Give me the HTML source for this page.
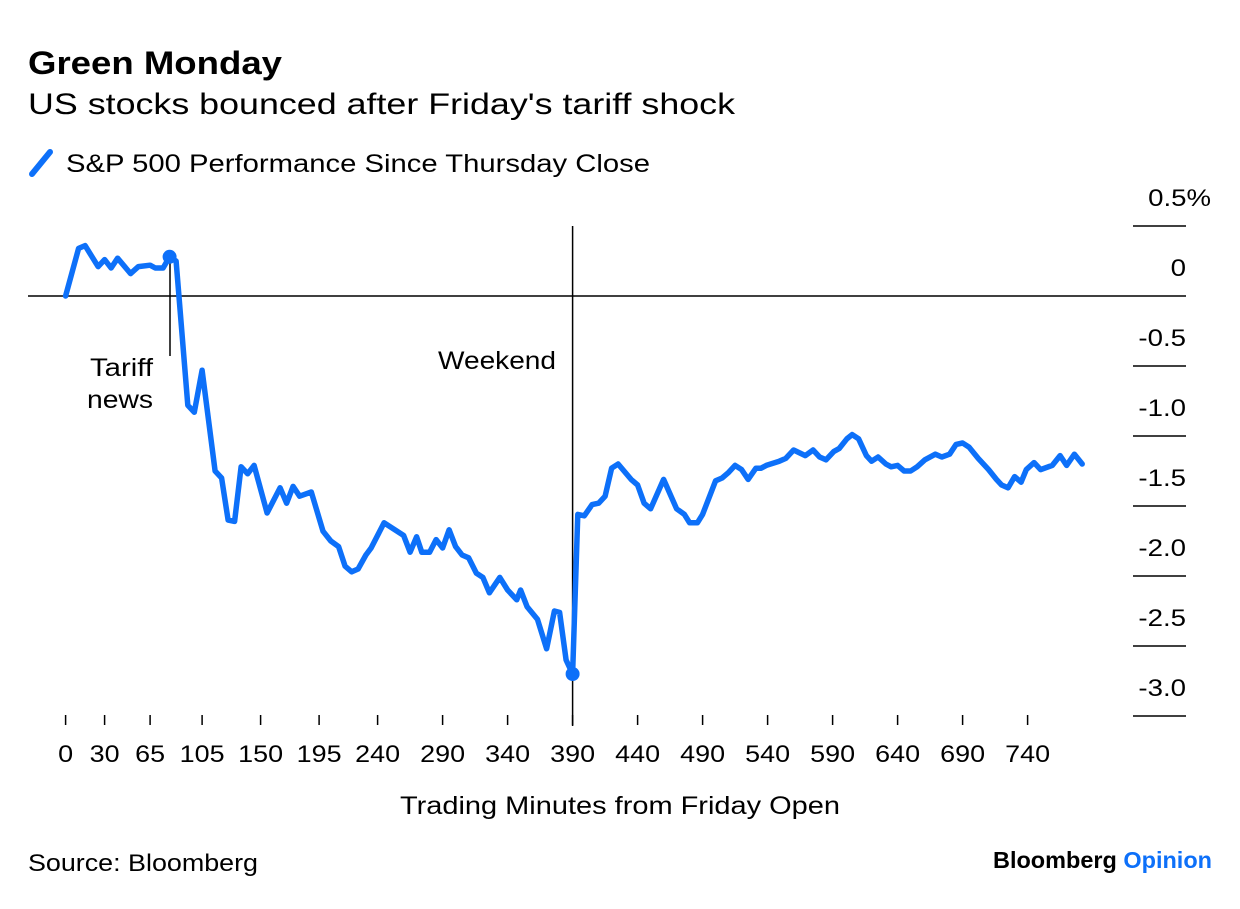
<!DOCTYPE html>
<html><head><meta charset="utf-8"><style>
body{margin:0;background:#fff;}
svg text{font-family:"Liberation Sans",Arial,sans-serif;fill:#000;}
</style></head><body>
<svg width="1240" height="904" viewBox="0 0 1240 904" xmlns="http://www.w3.org/2000/svg">
<text x="28" y="74" font-size="32" font-weight="bold" textLength="254" lengthAdjust="spacingAndGlyphs">Green Monday</text>
<text x="28" y="114" font-size="30" textLength="707" lengthAdjust="spacingAndGlyphs">US stocks bounced after Friday's tariff shock</text>
<g>
<line x1="32" y1="174" x2="50" y2="152" stroke="#0d70f9" stroke-width="6" stroke-linecap="round"/>
<text x="66" y="172" font-size="25" textLength="584" lengthAdjust="spacingAndGlyphs">S&amp;P 500 Performance Since Thursday Close</text>
</g>
<g id="yaxis"></g>
<g id="xaxis"></g>
<line x1="28" y1="296" x2="1133" y2="296" stroke="#000" stroke-width="1.5"/>
<line x1="572.6" y1="226" x2="572.6" y2="726" stroke="#000" stroke-width="1.5"/>
<text x="438" y="369" font-size="25" textLength="118" lengthAdjust="spacingAndGlyphs">Weekend</text>
<line x1="170" y1="262" x2="170" y2="356" stroke="#000" stroke-width="1.5"/>
<text x="90" y="376" font-size="25" textLength="63" lengthAdjust="spacingAndGlyphs">Tariff</text>
<text x="87" y="408" font-size="25" textLength="66" lengthAdjust="spacingAndGlyphs">news</text>
<g id="series"></g>
<text x="400" y="814" font-size="25" textLength="440" lengthAdjust="spacingAndGlyphs">Trading Minutes from Friday Open</text>
<text x="28" y="871" font-size="24" textLength="230" lengthAdjust="spacingAndGlyphs">Source: Bloomberg</text>
<text x="993" y="868" font-size="23" font-weight="bold" textLength="219" lengthAdjust="spacingAndGlyphs">Bloomberg <tspan fill="#0d70f9">Opinion</tspan></text>
</svg>
<script>
const minutes=[0,10,15,25,30,35,40,50,56,65,69,75,80,85,94,99,105,115,120,125,130,135,140,145,155,165,170,175,180,189,198,204,210,215,220,225,231,235,245,260,265,270,274,280,285,290,295,300,305,310,316,321,326,334,340,347,350,355,363,370,376,380,385,390,394,399,405,410,415,420,425,435,440,445,450,460,470,476,480,486,490,500,505,510,515,520,525,531,535,539,549,554,560,569,575,580,585,591,595,601,605,610,616,620,625,631,635,640,645,650,655,661,669,674,680,685,690,695,702,710,716,720,725,730,735,739,745,750,759,765,770,776,782];
const values=[0,0.34,0.36,0.21,0.26,0.20,0.27,0.16,0.21,0.22,0.20,0.20,0.28,0.25,-0.78,-0.83,-0.53,-1.25,-1.30,-1.60,-1.61,-1.22,-1.27,-1.21,-1.55,-1.37,-1.48,-1.36,-1.43,-1.40,-1.68,-1.75,-1.79,-1.93,-1.97,-1.95,-1.85,-1.80,-1.62,-1.71,-1.83,-1.72,-1.83,-1.83,-1.74,-1.80,-1.67,-1.79,-1.85,-1.87,-1.98,-2.01,-2.12,-2.01,-2.10,-2.17,-2.10,-2.22,-2.31,-2.52,-2.25,-2.26,-2.60,-2.70,-1.56,-1.57,-1.49,-1.48,-1.43,-1.23,-1.20,-1.31,-1.35,-1.48,-1.52,-1.31,-1.52,-1.56,-1.62,-1.62,-1.56,-1.32,-1.30,-1.26,-1.21,-1.24,-1.31,-1.23,-1.23,-1.21,-1.18,-1.16,-1.10,-1.14,-1.10,-1.15,-1.17,-1.11,-1.09,-1.02,-0.99,-1.02,-1.14,-1.18,-1.15,-1.20,-1.22,-1.21,-1.25,-1.25,-1.22,-1.17,-1.13,-1.15,-1.13,-1.06,-1.05,-1.08,-1.16,-1.24,-1.31,-1.35,-1.37,-1.29,-1.33,-1.24,-1.19,-1.24,-1.21,-1.14,-1.21,-1.13,-1.20];
const markedMinutes=[80,390];
const xTicks=[0,30,65,105,150,195,240,290,340,390,440,490,540,590,640,690,740];
const yTicks=[0.5,0,-0.5,-1.0,-1.5,-2.0,-2.5,-3.0];
const yTickLabels=["0.5%","0","-0.5","-1.0","-1.5","-2.0","-2.5","-3.0"];
const NS="http://www.w3.org/2000/svg";
function xs(m){return 65.6+1.3*m;}
function ys(v){return 296-140*v;}
function widen(t,f){const w=t.getComputedTextLength();t.setAttribute('textLength',(w*f).toFixed(1));t.setAttribute('lengthAdjust','spacingAndGlyphs');}
const ya=document.getElementById('yaxis');
yTicks.forEach((t,i)=>{
  const l=document.createElementNS(NS,'line');
  l.setAttribute('x1',1133);l.setAttribute('x2',1186);
  l.setAttribute('y1',ys(t));l.setAttribute('y2',ys(t));
  l.setAttribute('stroke','#000');l.setAttribute('stroke-width','1.5');
  
  
  ya.appendChild(l);
  const tx=document.createElementNS(NS,'text');
  tx.setAttribute('x',i===0?1211:1186);tx.setAttribute('y',ys(t)-20);
  tx.setAttribute('font-size','24');tx.setAttribute('text-anchor','end');
  tx.textContent=yTickLabels[i];
  
  
  ya.appendChild(tx);
  widen(tx,1.15);
});
const xa=document.getElementById('xaxis');
xTicks.forEach(t=>{
  const l=document.createElementNS(NS,'line');
  l.setAttribute('x1',xs(t));l.setAttribute('x2',xs(t));
  l.setAttribute('y1',715);l.setAttribute('y2',725);
  l.setAttribute('stroke','#000');l.setAttribute('stroke-width','1.5');
  
  
  xa.appendChild(l);
  const tx=document.createElementNS(NS,'text');
  tx.setAttribute('x',xs(t));tx.setAttribute('y',762);
  tx.setAttribute('font-size','24');tx.setAttribute('text-anchor','middle');
  tx.textContent=t;
  
  
  xa.appendChild(tx);
  widen(tx,1.12);
});
const sg=document.getElementById('series');
const p=document.createElementNS(NS,'path');
p.setAttribute('d',minutes.map((m,i)=>(i?'L':'M')+xs(m).toFixed(1)+' '+ys(values[i]).toFixed(1)).join(' '));
p.setAttribute('fill','none');p.setAttribute('stroke','#0d70f9');
p.setAttribute('stroke-width','5.5');p.setAttribute('stroke-linejoin','round');p.setAttribute('stroke-linecap','round');


sg.appendChild(p);
markedMinutes.forEach(mm=>{
  const i=minutes.indexOf(mm);
  const c=document.createElementNS(NS,'circle');
  c.setAttribute('cx',xs(minutes[i]));c.setAttribute('cy',ys(values[i]));
  c.setAttribute('r',7);c.setAttribute('fill','#0d70f9');
  
  
  sg.appendChild(c);
});
</script>
</body></html>
